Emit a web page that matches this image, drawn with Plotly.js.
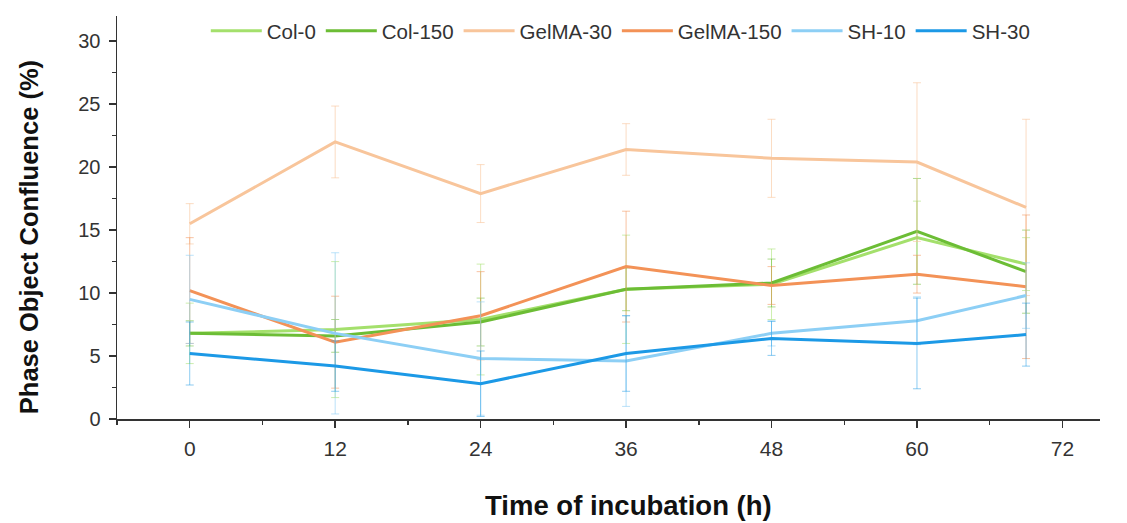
<!DOCTYPE html>
<html>
<head>
<meta charset="utf-8">
<script src="https://cdn.plot.ly/plotly-3.0.1.min.js"></script>
<style>html,body{margin:0;padding:0;background:#fff;}#chart{width:1127px;height:523px;}</style>
</head>
<body>
<div id="chart"></div>
<script>
const hours = [0, 12, 24, 36, 48, 60, 69];

const col0 = [6.8, 7.1, 7.9, 10.3, 10.7, 14.4, 12.3];
const col0Err = [2.4, 5.4, 4.4, 4.3, 2.8, 2.9, 2.1];

const col150 = [6.8, 6.6, 7.7, 10.3, 10.8, 14.9, 11.7];
const col150Err = [1.0, 1.3, 1.9, 1.7, 1.9, 4.2, 3.3];

const gelma30 = [15.5, 22.0, 17.9, 21.4, 20.7, 20.4, 16.8];
const gelma30Err = [1.6, 2.85, 2.3, 2.05, 3.1, 6.3, 7.0];

const gelma150 = [10.2, 6.1, 8.2, 12.1, 10.6, 11.5, 10.5];
const gelma150Err = [4.2, 3.65, 3.5, 4.4, 1.5, 1.5, 5.7];

const sh10 = [9.5, 6.8, 4.8, 4.6, 6.8, 7.8, 9.8];
const sh10Err = [3.5, 6.4, 4.5, 3.6, 1.0, 1.9, 2.6];

const sh30 = [5.2, 4.2, 2.8, 5.2, 6.4, 6.0, 6.7];
const sh30Err = [2.5, 2.0, 2.6, 3.0, 1.35, 3.6, 2.5];

const names = ['Col-0', 'Col-150', 'GelMA-30', 'GelMA-150', 'SH-10', 'SH-30'];
const tickVals = [0, 12, 24, 36, 48, 60, 72];
const xTitle = 'Time of incubation (h)';
const yTitle = 'Phase Object Confluence (%)';

const series = [
  {name: names[0], y: col0, e: col0Err, color: '#a4e06c', ecolor: 'rgba(164,224,108,0.55)'},
  {name: names[1], y: col150, e: col150Err, color: '#6cbd35', ecolor: 'rgba(108,189,53,0.55)'},
  {name: names[2], y: gelma30, e: gelma30Err, color: '#f8c59b', ecolor: 'rgba(248,197,155,0.6)'},
  {name: names[3], y: gelma150, e: gelma150Err, color: '#f39257', ecolor: 'rgba(243,146,87,0.55)'},
  {name: names[4], y: sh10, e: sh10Err, color: '#8dcff5', ecolor: 'rgba(141,207,245,0.6)'},
  {name: names[5], y: sh30, e: sh30Err, color: '#1c99e6', ecolor: 'rgba(28,153,230,0.5)'}
];

const traces = series.map(s => ({
  type: 'scatter',
  mode: 'lines',
  x: hours,
  y: s.y,
  name: s.name,
  line: {color: s.color, width: 3},
  error_y: {type: 'data', array: s.e, visible: true, thickness: 1, width: 4, color: s.ecolor}
}));

const layout = {
  width: 1127,
  height: 523,
  paper_bgcolor: '#ffffff',
  plot_bgcolor: '#ffffff',
  margin: {l: 117, r: 27, t: 15, b: 104},
  font: {family: 'Liberation Sans, Arial, sans-serif', color: '#333'},
  showlegend: true,
  legend: {
    orientation: 'h',
    x: 0.512, xanchor: 'center',
    y: 1.01, yanchor: 'top',
    font: {size: 20.5, color: '#333'},
    bgcolor: 'rgba(0,0,0,0)',
    itemwidth: 51
  },
  xaxis: {
    range: [-6, 75.1],
    tickvals: tickVals,
    ticktext: tickVals.map(String),
    ticks: 'outside',
    ticklen: 7,
    tickwidth: 1.5,
    tickcolor: '#333',
    showline: true,
    linecolor: '#333',
    linewidth: 1.5,
    showgrid: false,
    zeroline: false,
    minor: {dtick: 6, tick0: 0, ticks: 'outside', ticklen: 4, tickwidth: 1.5, tickcolor: '#333', showgrid: false},
    tickfont: {size: 21, color: '#333'},
    ticklabelstandoff: 3
  },
  yaxis: {
    range: [0, 32],
    tickvals: [0, 5, 10, 15, 20, 25, 30],
    ticks: 'outside',
    ticklen: 7,
    tickwidth: 1.5,
    tickcolor: '#333',
    showline: true,
    linecolor: '#333',
    linewidth: 1.5,
    showgrid: false,
    zeroline: false,
    minor: {dtick: 2.5, tick0: 0, ticks: 'outside', ticklen: 4, tickwidth: 1.5, tickcolor: '#333', showgrid: false},
    tickfont: {size: 20, color: '#333'},
    ticklabelstandoff: 4
  },
  annotations: [
    {text: '<b>' + xTitle + '</b>', xref: 'paper', yref: 'paper', x: 0.52, y: -0.215, xanchor: 'center', yanchor: 'middle',
     showarrow: false, font: {size: 27.5, color: '#111'}},
    {text: '<b>' + yTitle + '</b>', xref: 'paper', yref: 'paper', x: -0.09, y: 0.45, xanchor: 'center', yanchor: 'middle',
     textangle: -90, showarrow: false, font: {size: 25.5, color: '#111'}}
  ]
};

Plotly.newPlot('chart', traces, layout, {displayModeBar: false, staticPlot: true});
</script>
</body>
</html>
